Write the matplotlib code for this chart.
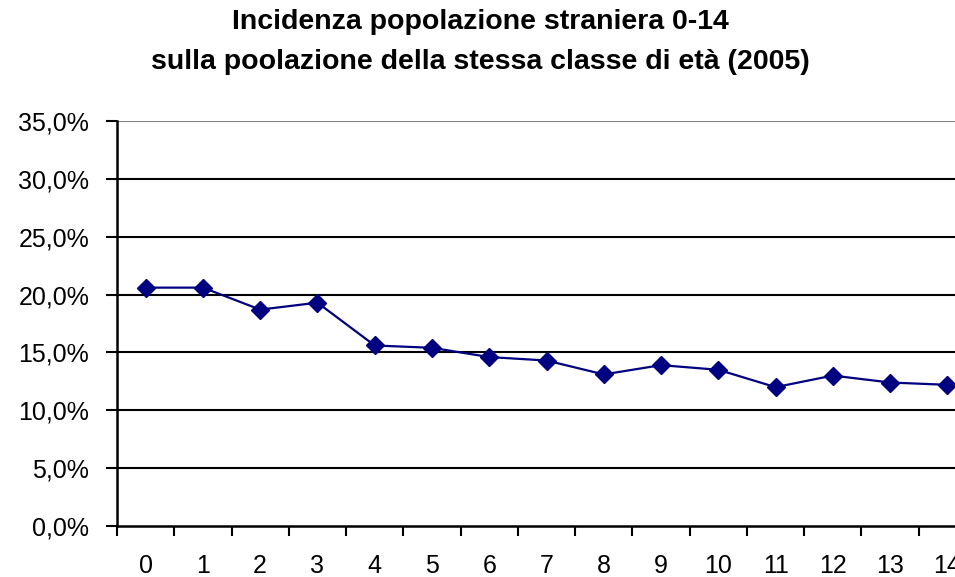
import numpy as np
import matplotlib.pyplot as plt
from matplotlib.ticker import FuncFormatter

# age classes 0-14 and incidence (%)
ages = [str(i) for i in range(15)]
incidenza = [20.6, 20.6, 18.7, 19.3, 15.6, 15.4, 14.6, 14.3, 13.1, 13.9, 13.5, 12.0, 13.0, 12.4, 12.2]
yticks = [0, 5, 10, 15, 20, 25, 30, 35]

plt.rcParams['font.family'] = ['Liberation Sans', 'DejaVu Sans']

fig = plt.figure(figsize=(9.55, 5.77), dpi=100)
# plot area runs past the right edge, as in the cropped original
ax = fig.add_axes([117/955, 51/577, 859/955, 405/577])

x = np.arange(len(ages))
ax.plot(x, incidenza, color='#000080', lw=1.6, marker='D', ms=9, mfc='#000080', mec='#000080')

ax.set_xlim(-0.5, len(ages) - 0.5)
ax.set_ylim(0, 35)

# y axis: gridlines every 5%
ax.set_yticks(yticks)
ax.yaxis.set_major_formatter(FuncFormatter(lambda v, p: ('%.1f%%' % v).replace('.', ',')))
for v in yticks[1:]:
    ax.axhline(v, color='black' if v < 35 else '#808080', lw=1.5, zorder=0)

# x axis: ticks between categories, labels centered
ax.set_xticks(np.arange(-0.5, len(ages), 1.0))
ax.set_xticklabels([])
ax.set_xticks(x, minor=True)
ax.set_xticklabels(ages, minor=True)
ax.tick_params(axis='x', which='major', direction='out', length=7, width=1.5)
ax.tick_params(axis='x', which='minor', length=0, pad=20, labelsize=18)
ax.tick_params(axis='y', direction='out', length=8, width=1.5, pad=12, labelsize=18)

for s in ['top', 'right']:
    ax.spines[s].set_visible(False)
ax.spines['left'].set_linewidth(1.8)
ax.spines['bottom'].set_linewidth(1.8)

fig.text(0.503, 0.962, 'Incidenza popolazione straniera 0-14', ha='center', va='center',
         fontsize=20.5, fontweight='bold')
fig.text(0.503, 0.893, 'sulla poolazione della stessa classe di età (2005)', ha='center', va='center',
         fontsize=20.5, fontweight='bold')

fig.savefig('out.png', dpi=100)
